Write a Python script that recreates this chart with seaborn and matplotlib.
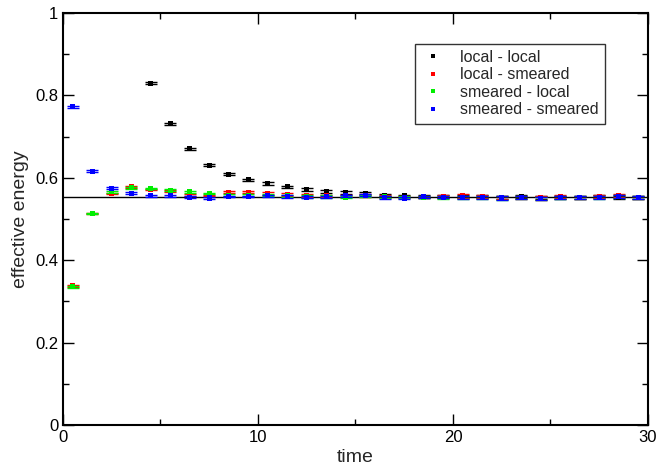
import numpy as np
import pandas as pd
import matplotlib
matplotlib.use("Agg")
import matplotlib.pyplot as plt
import seaborn as sns
from matplotlib.ticker import MultipleLocator, FuncFormatter

# time slices
times = np.arange(30) + 0.5

nan = np.nan
local_local = [nan, nan, nan, nan,
               0.830, 0.731, 0.670, 0.631, 0.609, 0.595, 0.586, 0.578, 0.572, 0.567,
               0.564, 0.562, 0.558, 0.556, 0.555, 0.555, 0.554, 0.554, 0.553, 0.554,
               0.553, 0.552, 0.553, 0.554, 0.553, 0.553]
local_smeared = [0.338, 0.513, 0.562, 0.578, 0.572, 0.568, 0.559, 0.557, 0.565, 0.565,
                 0.562, 0.560, 0.557, 0.556, 0.556, 0.557, 0.555, 0.553, 0.554, 0.555,
                 0.556, 0.554, 0.552, 0.553, 0.551, 0.555, 0.552, 0.554, 0.557, 0.553]
smeared_local = [0.335, 0.513, 0.566, 0.576, 0.574, 0.570, 0.566, 0.562, 0.558, 0.558,
                 0.558, 0.556, 0.555, 0.555, 0.553, 0.556, 0.554, 0.553, 0.553, 0.552,
                 0.553, 0.553, 0.551, 0.552, 0.549, 0.553, 0.552, 0.553, 0.555, 0.552]
smeared_smeared = [0.772, 0.616, 0.575, 0.563, 0.556, 0.556, 0.553, 0.551, 0.555, 0.555,
                   0.556, 0.555, 0.553, 0.554, 0.556, 0.558, 0.552, 0.551, 0.554, 0.553,
                   0.553, 0.553, 0.551, 0.553, 0.550, 0.553, 0.552, 0.553, 0.555, 0.552]
errors = [0.002] * 10 + [0.003] * 10 + [0.004] * 10

plateau = 0.553

labels = ["local - local", "local - smeared", "smeared - local", "smeared - smeared"]
colors = ["#000000", "#ff0000", "#00ee00", "#0000ff"]

frames = []
for name, vals in zip(labels, [local_local, local_smeared, smeared_local, smeared_smeared]):
    frames.append(pd.DataFrame({"time": times, "energy": vals, "err": errors, "corr": name}))
df = pd.concat(frames, ignore_index=True).dropna()

sns.set_style("ticks")
plt.rcParams["font.family"] = ["Liberation Sans", "DejaVu Sans"]

fig = plt.figure(figsize=(6.61, 4.65), dpi=100)
ax = fig.add_axes([0.0953, 0.086, 0.885, 0.886])

for name, col in zip(labels, colors):
    sub = df[df["corr"] == name]
    ax.errorbar(sub["time"], sub["energy"], yerr=sub["err"], fmt="none",
                ecolor=col, elinewidth=1, capsize=4.5, capthick=1, zorder=2)

sns.scatterplot(data=df, x="time", y="energy", hue="corr", hue_order=labels,
                palette=colors, marker="s", s=13, edgecolor="none", ax=ax, zorder=3)

ax.axhline(plateau, color="black", lw=1, zorder=1)

ax.set_xlim(0, 30)
ax.set_ylim(0, 1)
ax.xaxis.set_major_locator(MultipleLocator(10))
ax.xaxis.set_minor_locator(MultipleLocator(5))
ax.yaxis.set_major_locator(MultipleLocator(0.2))
ax.yaxis.set_minor_locator(MultipleLocator(0.1))
ax.yaxis.set_major_formatter(FuncFormatter(lambda v, p: f"{v:g}"))
ax.tick_params(which="both", direction="in", top=True, right=True, labelsize=12, colors="black")
ax.tick_params(which="major", length=8, width=1)
ax.tick_params(which="minor", length=4, width=1)
for sp in ax.spines.values():
    sp.set_linewidth(1.5)
    sp.set_color("black")

ax.set_xlabel("time", fontsize=14, labelpad=3)
ax.set_ylabel("effective energy", fontsize=14, labelpad=4)

leg = ax.legend(loc="upper right", bbox_to_anchor=(0.94, 0.945), frameon=True, fancybox=False,
                edgecolor="black", fontsize=11.5, markerscale=0.7, handletextpad=1.0,
                borderpad=0.4, labelspacing=0.15, handlelength=1.4)
leg.get_frame().set_linewidth(1)

fig.savefig("out.png", dpi=100)
